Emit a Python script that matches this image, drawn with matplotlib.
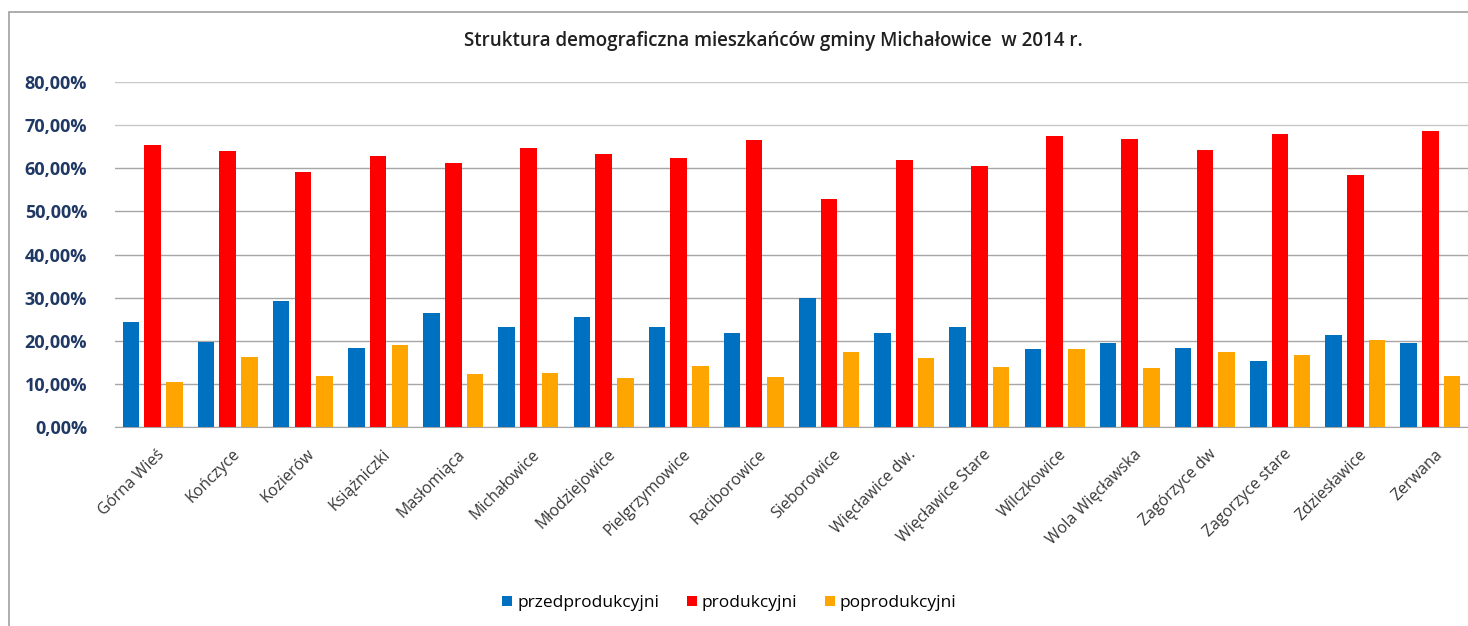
import numpy as np
import matplotlib
matplotlib.use("Agg")
import matplotlib.pyplot as plt
from matplotlib.ticker import FuncFormatter
from matplotlib.patches import Rectangle

plt.rcParams['font.family'] = ['Open Sans', 'DejaVu Sans']

# dane z wykresu (%)
miejscowosci = ['Górna Wieś', 'Kończyce', 'Kozierów', 'Książniczki', 'Masłomiąca',
                'Michałowice', 'Młodziejowice', 'Pielgrzymowice', 'Raciborowice',
                'Sieborowice', 'Więcławice dw.', 'Więcławice Stare', 'Wilczkowice',
                'Wola Więcławska', 'Zagórzyce dw', 'Zagorzyce stare', 'Zdziesławice',
                'Zerwana']
przedprodukcyjni = [24.4, 19.8, 29.3, 18.4, 26.5, 23.2, 25.6, 23.3, 21.9,
                    30.0, 21.8, 23.3, 18.1, 19.5, 18.4, 15.3, 21.4, 19.5]
produkcyjni = [65.4, 64.0, 59.2, 62.8, 61.3, 64.8, 63.4, 62.4, 66.6,
               52.9, 61.8, 60.5, 67.4, 66.8, 64.2, 68.0, 58.4, 68.7]
poprodukcyjni = [10.4, 16.3, 11.8, 19.0, 12.4, 12.5, 11.4, 14.2, 11.6,
                 17.3, 16.0, 13.8, 18.2, 13.7, 17.5, 16.8, 20.2, 11.9]

kolory = ['#0070C0', '#FF0000', '#FFA500']
serie = [('przedprodukcyjni', przedprodukcyjni),
         ('produkcyjni', produkcyjni),
         ('poprodukcyjni', poprodukcyjni)]

fig = plt.figure(figsize=(14.68, 6.26), dpi=100)
# ramka wykresu
fig.patches.append(Rectangle((9 / 1468, -0.05), 1.2, 1 - 12 / 626 + 0.05,
                             transform=fig.transFigure, fill=False,
                             edgecolor='#A0A0A0', linewidth=1.2))

ax = fig.add_axes([115 / 1468, 199 / 626, 1 - 115 / 1468, (427 - 82) / 626])

x = np.arange(len(miejscowosci))
offset = 0.29
width = 0.22
for i, (nazwa, vals) in enumerate(serie):
    ax.bar(x + (i - 1) * offset, vals, width, color=kolory[i], label=nazwa, zorder=3)

ax.set_xlim(-0.5, len(miejscowosci) - 0.5)
ax.set_ylim(0, 80)
ax.set_yticks(np.arange(0, 81, 10))
ax.yaxis.set_major_formatter(FuncFormatter(lambda v, p: f'{v:.2f}%'.replace('.', ',')))
ax.grid(axis='y', color='#A6A6A6', linewidth=1.0, zorder=0)
# dwie gorne linie siatki sa jasniejsze
for gl in ax.get_ygridlines()[-2:]:
    gl.set_color('#C8C8C8')
for s in ['top', 'right', 'left']:
    ax.spines[s].set_visible(False)
ax.spines['bottom'].set_color('#A6A6A6')
ax.tick_params(axis='y', length=0, pad=20, labelsize=13, labelcolor='#1F3864')
for lab in ax.get_yticklabels():
    lab.set_fontweight('bold')
ax.tick_params(axis='x', length=0, pad=14)
ax.set_xticks(x + 0.05)
ax.set_xticklabels(miejscowosci, rotation=45, ha='right', rotation_mode='anchor',
                   fontsize=11.5, color='#383838')

fig.text(0.527, 1 - 41 / 626, 'Struktura demograficzna mieszkańców gminy Michałowice  w 2014 r.',
         ha='center', va='center', fontsize=13.5, fontweight='semibold', color='#202020')

fig.legend(loc='center', bbox_to_anchor=(0.497, 1 - 603 / 626), ncol=3, frameon=False,
           fontsize=12.5, handlelength=0.55, handleheight=0.55, handletextpad=0.3,
           columnspacing=1.6)

fig.savefig('out.png', dpi=100)
